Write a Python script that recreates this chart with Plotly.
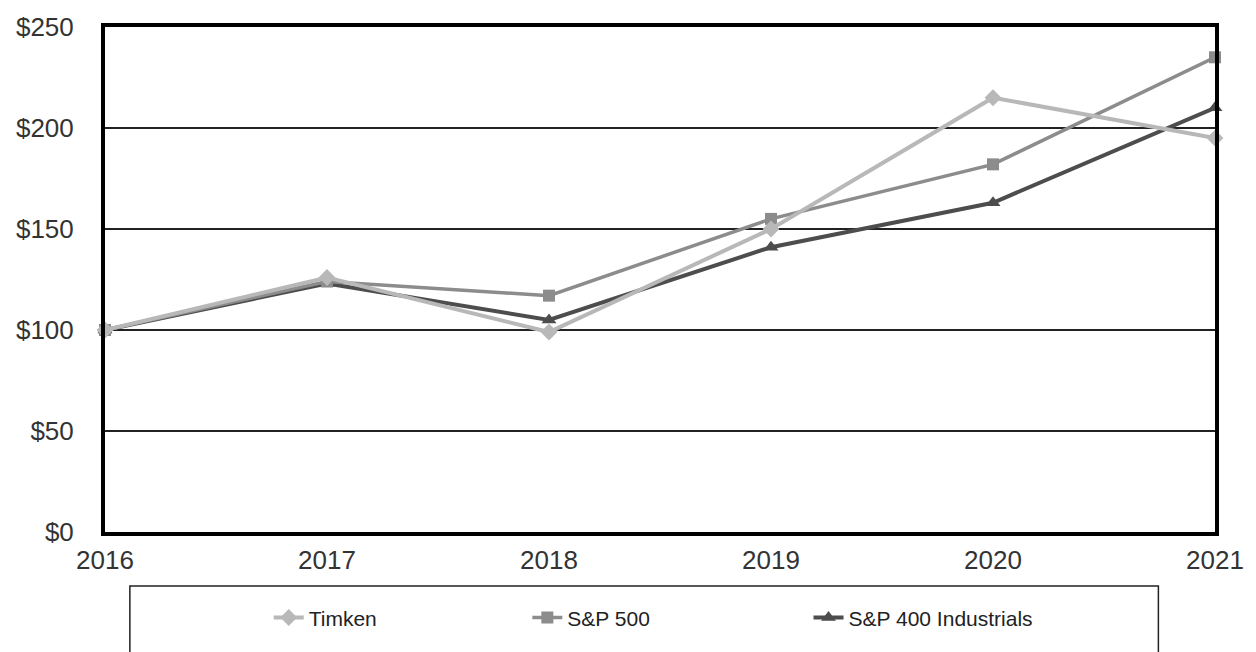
import plotly.graph_objects as go

years = [2016, 2017, 2018, 2019, 2020, 2021]
timken = [100, 126, 99, 150, 215, 195]
sp500 = [100, 124, 117, 155, 182, 235]
sp400_ind = [100, 123, 105, 141, 163, 210]
y_ticks = [0, 50, 100, 150, 200, 250]
y_tick_labels = ["$0", "$50", "$100", "$150", "$200", "$250"]

fig = go.Figure()
fig.add_trace(go.Scatter(x=years, y=sp400_ind, name="S&P 400 Industrials", mode="lines+markers",
                         line=dict(color="#4d4d4d", width=4), cliponaxis=False,
                         marker=dict(symbol="triangle-up", size=13, color="#4d4d4d"),
                         legend="legend3"))
fig.add_trace(go.Scatter(x=years, y=sp500, name="S&P 500", mode="lines+markers",
                         line=dict(color="#8c8c8c", width=3.5), cliponaxis=False,
                         marker=dict(symbol="square", size=12, color="#8c8c8c"),
                         legend="legend2"))
fig.add_trace(go.Scatter(x=years, y=timken, name="Timken", mode="lines+markers",
                         line=dict(color="#b8b8b8", width=4), cliponaxis=False,
                         marker=dict(symbol="diamond", size=13, color="#b8b8b8"),
                         legend="legend"))

leg_common = dict(orientation="h", yanchor="middle", y=-0.17, xanchor="left",
                  bgcolor="rgba(0,0,0,0)", borderwidth=0,
                  font=dict(family="Liberation Sans, Arial", size=21, color="#222222"))
fig.update_layout(
    width=1256, height=652,
    margin=dict(l=105, r=31, t=16, b=120),
    paper_bgcolor="white", plot_bgcolor="white",
    showlegend=True,
    legend=dict(x=0.1475, **leg_common),
    legend2=dict(x=0.3805, **leg_common),
    legend3=dict(x=0.6338, **leg_common),
    xaxis=dict(range=[2016, 2021], tickvals=years, ticktext=[str(y) for y in years],
               showgrid=False, zeroline=False, showline=True, mirror=True,
               linecolor="black", linewidth=4,
               tickfont=dict(family="Liberation Sans, Arial", size=26, color="#333333"),
               ticklabelstandoff=2),
    yaxis=dict(range=[0, 250], tickvals=y_ticks, ticktext=y_tick_labels,
               showgrid=True, gridcolor="#222222", gridwidth=1.5, zeroline=False,
               showline=True, mirror=True, linecolor="black", linewidth=4,
               tickfont=dict(family="Liberation Sans, Arial", size=26, color="#333333"),
               ticklabelstandoff=22),
    shapes=[dict(type="rect", xref="paper", yref="paper",
                 x0=0.0224, x1=0.949, y0=-0.107, y1=-0.26,
                 line=dict(color="#222222", width=1.5), fillcolor="rgba(0,0,0,0)")],
)
fig.write_html("out.html")
